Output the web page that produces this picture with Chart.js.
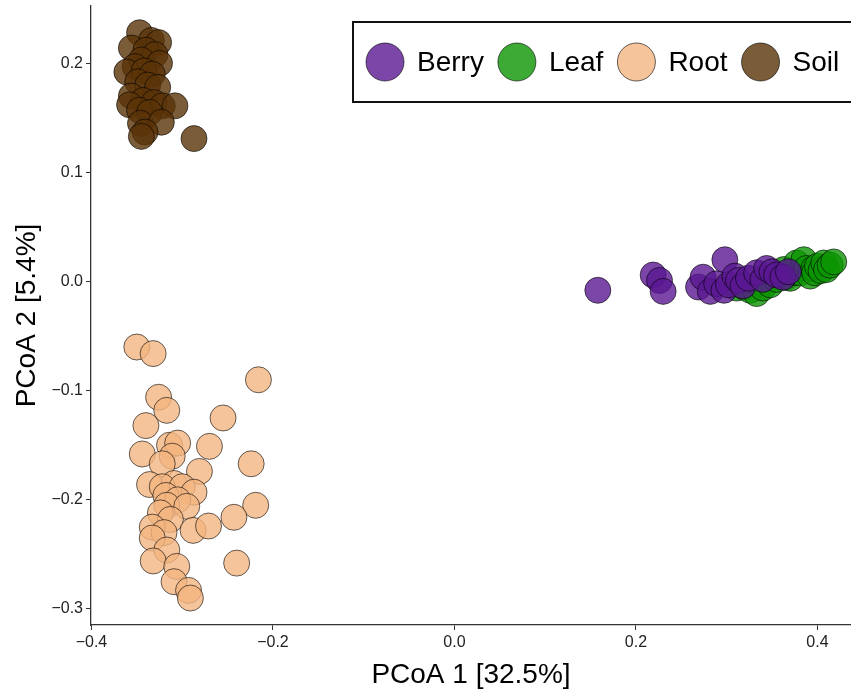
<!DOCTYPE html>
<html lang="en">
<head>
<meta charset="UTF-8">
<title>PCoA</title>
<script src="https://cdn.jsdelivr.net/npm/chart.js"></script>
<style>
  body { margin: 0; background: #fff; }
</style>
</head>
<body>
<div style="width:851px;height:695px">
  <canvas id="myChart" width="851" height="695"></canvas>
</div>
<script>
// groups and their colours
const groups = ['Berry', 'Leaf', 'Root', 'Soil'];
const colors = ['rgba(90,24,146,0.8)', 'rgba(13,149,4,0.8)', 'rgba(244,181,129,0.8)', 'rgba(90,51,8,0.8)'];

// axis ticks
const xTicks = [-0.4, -0.2, 0.0, 0.2, 0.4];
const yTicks = [-0.3, -0.2, -0.1, 0.0, 0.1, 0.2];

// PCoA coordinates [PC1, PC2]
const berry = [
  [0.158, -0.008], [0.219, 0.006], [0.226, 0.001], [0.230, -0.009], [0.269, -0.005],
  [0.274, 0.004], [0.282, -0.009], [0.289, -0.002], [0.297, -0.008], [0.298, 0.020],
  [0.302, -0.003], [0.309, 0.005], [0.313, 0.001], [0.318, -0.004], [0.324, 0.003],
  [0.333, 0.008], [0.340, 0.002], [0.344, 0.012], [0.350, 0.009], [0.355, 0.006],
  [0.362, 0.004], [0.368, 0.009]
];
const leaf = [
  [0.311, -0.006], [0.319, -0.005], [0.326, -0.008], [0.333, -0.011], [0.340, -0.006],
  [0.348, -0.003], [0.355, 0.002], [0.363, 0.011], [0.365, 0.004], [0.370, 0.003],
  [0.373, 0.008], [0.377, 0.017], [0.381, 0.008], [0.385, 0.020], [0.388, 0.012],
  [0.392, 0.005], [0.396, 0.012], [0.397, 0.008], [0.400, 0.014], [0.404, 0.010],
  [0.407, 0.017], [0.410, 0.011], [0.414, 0.015], [0.418, 0.018]
];
const root = [
  [-0.350, -0.060], [-0.332, -0.066], [-0.216, -0.090], [-0.326, -0.106], [-0.317, -0.118],
  [-0.255, -0.125], [-0.340, -0.132], [-0.314, -0.150], [-0.305, -0.148], [-0.270, -0.151],
  [-0.344, -0.158], [-0.311, -0.160], [-0.322, -0.167], [-0.224, -0.167], [-0.281, -0.174],
  [-0.336, -0.186], [-0.309, -0.185], [-0.322, -0.188], [-0.300, -0.188], [-0.287, -0.193],
  [-0.318, -0.196], [-0.305, -0.200], [-0.317, -0.205], [-0.295, -0.206], [-0.219, -0.205],
  [-0.324, -0.212], [-0.313, -0.218], [-0.243, -0.216], [-0.333, -0.225], [-0.288, -0.228],
  [-0.271, -0.224], [-0.320, -0.230], [-0.333, -0.235], [-0.317, -0.246], [-0.332, -0.256],
  [-0.306, -0.261], [-0.240, -0.258], [-0.309, -0.275], [-0.293, -0.283], [-0.291, -0.290]
];
const soil = [
  [-0.347, 0.228], [-0.334, 0.221], [-0.326, 0.219], [-0.356, 0.214], [-0.340, 0.212],
  [-0.330, 0.208], [-0.345, 0.203], [-0.325, 0.200], [-0.352, 0.197], [-0.361, 0.192],
  [-0.342, 0.193], [-0.333, 0.190], [-0.349, 0.183], [-0.338, 0.180], [-0.327, 0.178],
  [-0.356, 0.170], [-0.343, 0.166], [-0.331, 0.164], [-0.322, 0.161], [-0.308, 0.161],
  [-0.358, 0.162], [-0.347, 0.157], [-0.336, 0.155], [-0.346, 0.145], [-0.323, 0.146],
  [-0.341, 0.137], [-0.345, 0.133], [-0.287, 0.131]
];
const groupData = [berry, leaf, root, soil];

const fmt = v => (v < 0 ? '\u2212' : '') + Math.abs(v).toFixed(1);
const FONT = 'Arial, "Liberation Sans", sans-serif';

// no extra padding for tick labels, the plot fills the canvas edge
function noPad(s) {
  s.paddingLeft = 0; s.paddingRight = 0; s.paddingTop = 0; s.paddingBottom = 0;
}

// boxed legend drawn on top, like the ggplot one
const boxLegend = {
  id: 'boxLegend',
  afterDraw(chart) {
    const c = chart.ctx;
    const r = 19, top = 22, h = 80, cy = top + h / 2;
    c.save();
    c.fillStyle = '#fff';
    c.fillRect(353, top, 520, h);
    c.lineWidth = 2;
    c.strokeStyle = '#111';
    c.strokeRect(353, top, 520, h);
    c.font = '28px ' + FONT;
    c.textBaseline = 'middle';
    let x = 385;
    chart.data.datasets.forEach(ds => {
      c.beginPath();
      c.arc(x, cy, r, 0, Math.PI * 2);
      c.fillStyle = ds.backgroundColor;
      c.fill();
      c.lineWidth = 1;
      c.strokeStyle = 'rgba(0,0,0,0.6)';
      c.stroke();
      c.fillStyle = '#000';
      c.fillText(ds.label, x + r + 13, cy + 1);
      x += r + 13 + c.measureText(ds.label).width + 14 + r;
    });
    c.restore();
  }
};

const ctx = document.querySelector('#myChart');
const myChart = new Chart(ctx, {
  type: 'scatter',
  data: {
    datasets: groups.map((g, i) => ({
      label: g,
      data: groupData[i].map(p => ({ x: p[0], y: p[1] })),
      backgroundColor: colors[i],
      borderColor: 'rgba(0,0,0,0.75)',
      borderWidth: 0.8,
      pointRadius: 13,
      pointHoverRadius: 13
    }))
  },
  options: {
    responsive: false,
    animation: false,
    layout: { autoPadding: false, padding: { top: 6, left: 0, right: 0, bottom: 0 } },
    plugins: { legend: { display: false }, tooltip: { enabled: false } },
    scales: {
      x: {
        type: 'linear',
        min: -0.4005,
        max: 0.437,
        afterBuildTicks: s => { s.ticks = xTicks.map(v => ({ value: v })); },
        afterFit: s => { s.height = 70; noPad(s); },
        ticks: { callback: fmt, color: '#222', padding: 3, maxRotation: 0,
                 font: { family: FONT, size: 16 } },
        grid: { drawOnChartArea: false, drawTicks: true, tickLength: 5, color: '#333' },
        border: { color: '#333', width: 1.3 },
        title: { display: true, text: 'PCoA 1 [32.5%]', color: '#000', padding: { top: 0, bottom: 3 },
                 font: { family: FONT, size: 28, lineHeight: 1.2 } }
      },
      y: {
        type: 'linear',
        min: -0.3147,
        max: 0.2525,
        afterBuildTicks: s => { s.ticks = yTicks.map(v => ({ value: v })); },
        afterFit: s => { s.width = 91; noPad(s); },
        ticks: { callback: fmt, color: '#222', padding: 3,
                 font: { family: FONT, size: 16 } },
        grid: { drawOnChartArea: false, drawTicks: true, tickLength: 5, color: '#333' },
        border: { color: '#333', width: 1.3 },
        title: { display: true, text: 'PCoA 2 [5.4%]', color: '#000', padding: { top: 10, bottom: 0 },
                 font: { family: FONT, size: 28, lineHeight: 1.2 } }
      }
    }
  },
  plugins: [boxLegend]
});
</script>
</body>
</html>
